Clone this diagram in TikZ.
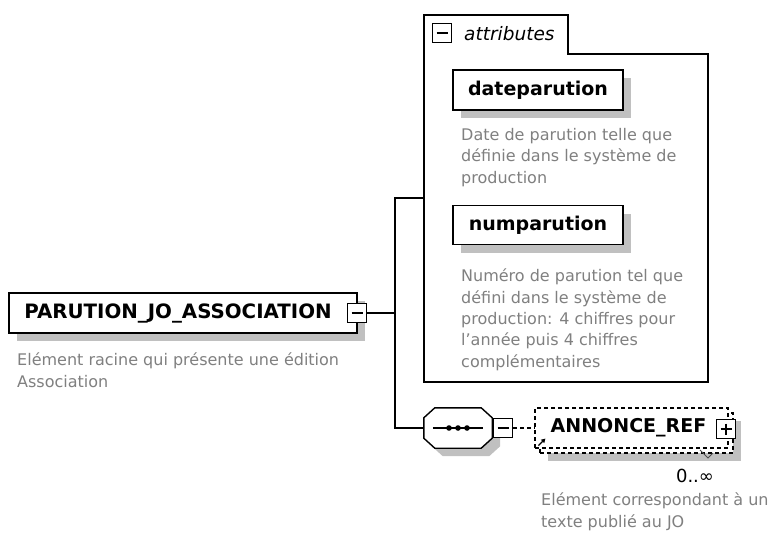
\documentclass[tikz,border=0pt]{standalone}
\usepackage{fontspec}
\setmainfont{DejaVu Sans}
\usepackage{xcolor}
\usetikzlibrary{shadows, arrows.meta, positioning, calc}
\definecolor{descgray}{HTML}{808080}
\definecolor{shadowgray}{HTML}{C0C0C0}

\begin{document}
\begin{tikzpicture}[x=1pt, y=-1pt,
    shadowed/.style={drop shadow={shadow xshift=8pt, shadow yshift=-8pt, fill=shadowgray, opacity=1}},
    elem/.style={rectangle, draw=black, fill=white, line width=1.4pt, minimum height=40pt, inner sep=0pt, font=\fontsize{19}{23}\selectfont\bfseries, shadowed},
    refelem/.style={rectangle, draw=black, fill=white, line width=1.2pt, dash pattern=on 4pt off 3pt, minimum height=40pt, inner sep=0pt, font=\fontsize{19}{23}\selectfont\bfseries},
    seqbox/.style={rectangle, minimum width=68pt, minimum height=40pt, inner sep=0pt},
    desc/.style={anchor=base west, align=left, text=descgray, font=\fontsize{16}{21.3}\selectfont, inner sep=0pt},
    btn/.style={rectangle, draw=black, fill=white, line width=1.3pt, minimum size=19pt, inner sep=0pt},
    minusbtn/.style={btn, path picture={\draw[line width=1.3pt] ([xshift=4pt]path picture bounding box.west) -- ([xshift=-4pt]path picture bounding box.east);}},
    plusbtn/.style={btn, path picture={\draw[line width=1.3pt] ([xshift=4pt]path picture bounding box.west) -- ([xshift=-4pt]path picture bounding box.east);
        \draw[line width=1.3pt] ([yshift=-4pt]path picture bounding box.north) -- ([yshift=4pt]path picture bounding box.south);}},
    conn/.style={line width=1.3pt, draw=black}
]
\useasboundingbox[fill=white] (0,0) rectangle (774,539);

% Root element
\node[elem, minimum width=348pt, font=\fontsize{19.8}{24}\selectfont\bfseries] (root) at (183,313) {PARUTION\_JO\_ASSOCIATION\rule{10pt}{0pt}};
\node[minusbtn] (rootbtn) at (357,313) {};
% (base anchor = baseline of the last line)
\node[desc] (rootdesc) at (17,387) {Elément racine qui présente une édition\\Association};

% Attributes group
\draw[line width=1.4pt] (424,15) -- (568,15) -- (568,54) -- (708,54) -- (708,382) -- (424,382) -- cycle;
\node[minusbtn] (attrbtn) at (442,33) {};
\node[anchor=west, inner sep=0pt, font=\fontsize{18.5}{22}\selectfont\itshape] (attrlabel) at (464,34) {attributes};

\node[elem, minimum width=170pt] (datepar) at (538,90) {dateparution};
\node[desc] (datedesc) at (461,183) {Date de parution telle que\\définie dans le système de\\production};

\node[elem, minimum width=170pt, minimum height=39pt] (numpar) at (538,225) {numparution};
\node[desc] (numdesc) at (461,367) {Numéro de parution tel que\\défini dans le système de\\production: 4 chiffres pour\\l'année puis 4 chiffres\\complémentaires};

% Sequence
\node[seqbox] (seq) at (458,428) {};
\draw[line width=1.4pt, fill=white, shadowed]
    ($(seq.north west)+(11,0)$) -- ($(seq.north east)+(-11,0)$) -- ($(seq.north east)+(0,10)$)
    -- ($(seq.south east)+(0,-10)$) -- ($(seq.south east)+(-11,0)$) -- ($(seq.south west)+(11,0)$)
    -- ($(seq.south west)+(0,-10)$) -- ($(seq.north west)+(0,10)$) -- cycle;
\draw[conn] ([xshift=9pt]seq.west) -- ([xshift=-9pt]seq.east);
\foreach \dx in {-9,0,9}
    \fill ([xshift=\dx pt]seq.center) circle (2.8pt);
\node[minusbtn] (seqbtn) at (503,428) {};

% ANNONCE_REF (0..unbounded)
\node[refelem, minimum width=193pt, shadowed] (annback) at (636.5,433) {};
\node[refelem, minimum width=193pt] (annonce) at (631.5,428) {ANNONCE\_REF\rule{6pt}{0pt}};
\node[plusbtn] (annbtn) at (726,429) {};
\draw[line width=1.2pt, -{Triangle[length=4pt, width=4.5pt]}] ([xshift=4pt, yshift=3pt]annonce.south west) -- ++(7,-7);
\draw[line width=0.9pt, black!70] (700,450) -- (708,458) -- (713,453);
\node[anchor=base, inner sep=0pt, font=\fontsize{18}{22}\selectfont] (occurs) at (695,482) {0..∞};
\node[desc] (anndesc) at (541,527) {Elément correspondant à un\\texte publié au JO};

% Connections
\coordinate (fork) at (395,313);
\coordinate (attrin) at (424,198);
\draw[conn] (rootbtn.east) -- (fork);
\draw[conn] (attrin) -| (fork) |- (seq.west);
\draw[conn, dash pattern=on 4pt off 3pt] (seqbtn.east) -- (annonce.west);

\end{tikzpicture}
\end{document}
